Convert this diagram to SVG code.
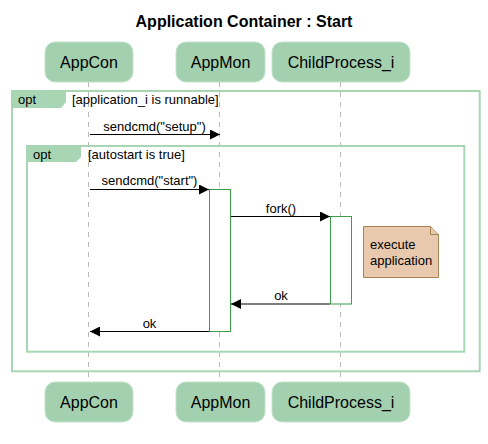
<svg xmlns="http://www.w3.org/2000/svg" width="488" height="444" viewBox="0 0 488 444">
<style>
text{font-family:"Liberation Sans",Arial,sans-serif;fill:#000}
.title{font-size:16px;font-weight:bold}
.pbox{fill:#A3D0AE;stroke:#C4E3CC;stroke-width:1}
.ptxt{font-size:16px}
.life{stroke:#BBBBBB;stroke-width:1;stroke-dasharray:5,5}
.frame{fill:none;stroke:#A8D6B5;stroke-width:2}
.tab{fill:#A8D6B5;stroke:none}
.ftxt{font-size:13px}
.msg{stroke:#000;stroke-width:1.2;fill:none}
.mtxt{font-size:13px}
.act{fill:#FFFFFF;stroke:#3C9E48;stroke-width:1}
.note{fill:#E8C9AE;stroke:#A58456;stroke-width:1}
</style>
<defs>
<marker id="ah" viewBox="0 0 10 10" refX="10" refY="5" markerWidth="10" markerHeight="10" markerUnits="userSpaceOnUse" orient="auto">
<path d="M0,0 L10,5 L0,10 Z" fill="#000"/>
</marker>
</defs>
<text class="title" x="244" y="26.5" text-anchor="middle">Application Container : Start</text>
<g id="lifelines">
<line class="life" x1="88.5" y1="82" x2="88.5" y2="382"/>
<line class="life" x1="219.5" y1="82" x2="219.5" y2="382"/>
<line class="life" x1="340.5" y1="82" x2="340.5" y2="382"/>
</g>
<g id="frame-outer">
<rect class="frame" x="12" y="91" width="467.7" height="280.3"/>
<path class="tab" d="M12,91 H66 V102 L61,108 H12 Z"/>
<text class="ftxt" x="18" y="104">opt</text>
<text class="ftxt" x="72" y="104">[application_i is runnable]</text>
</g>
<g id="frame-inner">
<rect class="frame" x="27" y="146" width="437.3" height="205.7"/>
<path class="tab" d="M27,146 H81 V157 L76,162 H27 Z"/>
<text class="ftxt" x="33" y="159">opt</text>
<text class="ftxt" x="88" y="159">[autostart is true]</text>
</g>
<g id="activation-appmon">
<rect class="act" x="209.5" y="189.5" width="21" height="142"/>
</g>
<g id="activation-child">
<rect class="act" x="330.5" y="216.5" width="21" height="87.5"/>
</g>
<g id="note">
<path class="note" d="M363.5,226.5 H430.5 L438.5,234.5 V277.5 H363.5 Z"/>
<path class="note" d="M430.5,226.5 V234.5 H438.5"/>
<text class="mtxt" x="370" y="249">execute</text>
<text class="mtxt" x="370" y="265">application</text>
</g>
<g id="connectors">
<line class="msg" x1="90" y1="134.5" x2="220" y2="134.5" marker-end="url(#ah)"/>
<text class="mtxt" x="154.5" y="131" text-anchor="middle">sendcmd("setup")</text>
<line class="msg" x1="90" y1="189.5" x2="209" y2="189.5" marker-end="url(#ah)"/>
<text class="mtxt" x="149.5" y="185" text-anchor="middle">sendcmd("start")</text>
<line class="msg" x1="231" y1="216.5" x2="330" y2="216.5" marker-end="url(#ah)"/>
<text class="mtxt" x="281" y="213" text-anchor="middle">fork()</text>
<line class="msg" x1="330" y1="304" x2="231" y2="304" marker-end="url(#ah)"/>
<text class="mtxt" x="281" y="300" text-anchor="middle">ok</text>
<line class="msg" x1="209" y1="331.5" x2="90" y2="331.5" marker-end="url(#ah)"/>
<text class="mtxt" x="149.5" y="328" text-anchor="middle">ok</text>
</g>
<g id="p-appcon">
<rect class="pbox" x="45" y="42" width="88" height="40" rx="10"/>
<text class="ptxt" x="89" y="68" text-anchor="middle">AppCon</text>
<rect class="pbox" x="45" y="382" width="88" height="40" rx="10"/>
<text class="ptxt" x="89" y="408" text-anchor="middle">AppCon</text>
</g>
<g id="p-appmon">
<rect class="pbox" x="176" y="42" width="89" height="40" rx="10"/>
<text class="ptxt" x="220.5" y="68" text-anchor="middle">AppMon</text>
<rect class="pbox" x="176" y="382" width="89" height="40" rx="10"/>
<text class="ptxt" x="220.5" y="408" text-anchor="middle">AppMon</text>
</g>
<g id="p-child">
<rect class="pbox" x="272" y="42" width="138" height="40" rx="10"/>
<text class="ptxt" x="341" y="68" text-anchor="middle">ChildProcess_i</text>
<rect class="pbox" x="272" y="382" width="138" height="40" rx="10"/>
<text class="ptxt" x="341" y="408" text-anchor="middle">ChildProcess_i</text>
</g>
</svg>
